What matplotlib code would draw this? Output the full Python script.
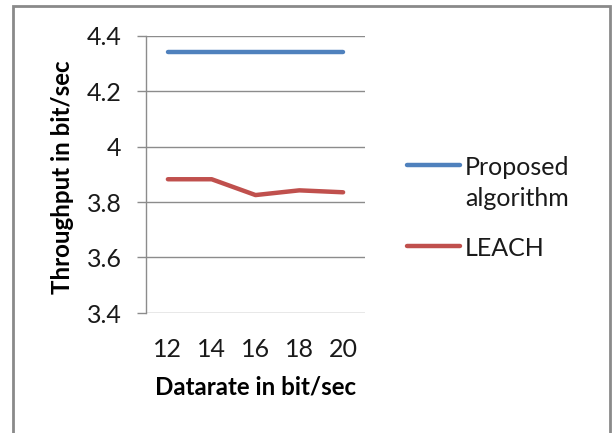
import matplotlib.pyplot as plt
from matplotlib.lines import Line2D
from matplotlib.patches import Rectangle

# data
datarate = ['12', '14', '16', '18', '20']
proposed = [4.34, 4.34, 4.34, 4.34, 4.34]
leach = [3.882, 3.882, 3.825, 3.842, 3.835]
y_ticks = [3.4, 3.6, 3.8, 4.0, 4.2, 4.4]
y_tick_labels = ['3.4', '3.6', '3.8', '4', '4.2', '4.4']
series_names = ['Proposed\nalgorithm', 'LEACH']
series_colors = ['#4F81BD', '#C0504D']

plt.rcParams['font.family'] = ['Lato', 'DejaVu Sans']
W, H = 612, 433
grid_color = '#8C8C8C'
text_color = '#1A1A1A'

fig = plt.figure(figsize=(W / 100, H / 100), dpi=100)
fig.patch.set_facecolor('white')

# chart frame (bottom edge runs off the canvas)
fig.add_artist(Rectangle((12.5 / W, -0.05), 597 / W, 1.05 - 6 / H,
                         transform=fig.transFigure, fill=False,
                         edgecolor='#8A8A8A', linewidth=2))

ax = fig.add_axes([146 / W, 1 - 313 / H, 219 / W, 277.5 / H])
x = list(range(len(datarate)))
ax.plot(x, proposed, color=series_colors[0], linewidth=3.2,
        solid_capstyle='round')
ax.plot(x, leach, color=series_colors[1], linewidth=3.2,
        solid_capstyle='round', solid_joinstyle='round')

ax.set_xlim(-0.5, len(datarate) - 0.5)
ax.set_ylim(3.4, 4.4)
ax.set_yticks(y_ticks)
ax.set_yticklabels(y_tick_labels)
ax.set_xticks(x)
ax.set_xticklabels(datarate)
ax.yaxis.grid(True, color=grid_color, linewidth=1)
ax.set_axisbelow(True)
for side in ['top', 'right', 'bottom']:
    ax.spines[side].set_visible(False)
ax.spines['left'].set_color(grid_color)
ax.spines['left'].set_linewidth(1)
ax.tick_params(axis='y', length=6.5, width=1, color=grid_color, pad=11,
               labelsize=18, labelcolor=text_color)
ax.tick_params(axis='x', length=0, pad=18, labelsize=18,
               labelcolor=text_color)

fig.text(62 / W, 1 - 177 / H, 'Throughput in bit/sec', rotation=90,
         ha='center', va='center', fontsize=17.4, fontweight='bold',
         color='black')
fig.text(256 / W, 1 - 387 / H, 'Datarate in bit/sec', ha='center',
         va='center', fontsize=17.4, fontweight='bold', color='black')

# legend: swatch level with the first text line
for name, color, ly in zip(series_names, series_colors, [165, 246]):
    fig.add_artist(Line2D([407 / W, 460 / W], [1 - ly / H, 1 - ly / H],
                          transform=fig.transFigure, color=color,
                          linewidth=3.2, solid_capstyle='round'))
    for i, line in enumerate(name.split('\n')):
        fig.text(465 / W, 1 - (ly + 31 * i) / H, line, ha='left',
                 va='center_baseline', fontsize=18, color=text_color)

fig.savefig('out.png', dpi=100)
